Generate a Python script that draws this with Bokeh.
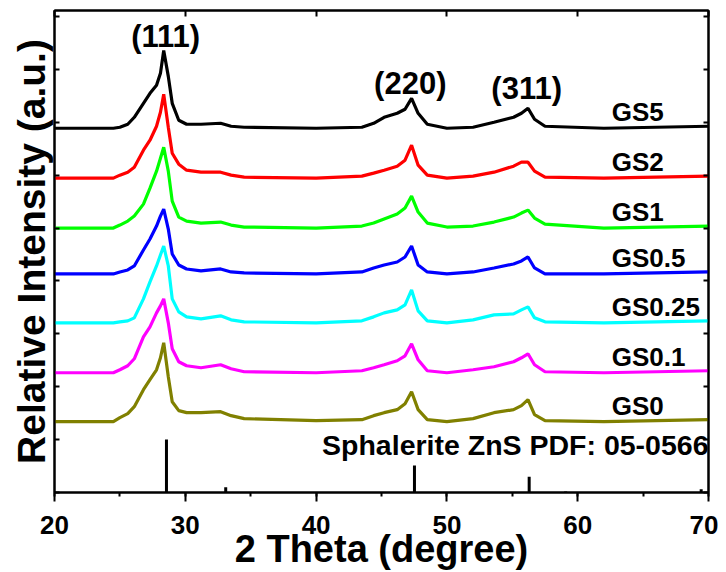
from bokeh.plotting import figure
from bokeh.models import Range1d, LinearAxis, SingleIntervalTicker, FixedTicker
from bokeh.core.properties import value
from bokeh.embed import file_html
from bokeh.resources import INLINE

# 2 Theta grid (degree)
two_theta = [20, 24.5, 25.0, 25.6, 26.1, 26.8, 27.3, 27.8, 28.1, 28.35, 28.7, 29.0, 29.5, 30.1,
             31.2, 32.7, 33.5, 34.5, 40, 43.5, 44.4, 45.2, 46.2, 46.8, 47.3, 47.8, 48.5, 50.0,
             52.0, 53.6, 55.1, 55.7, 56.2, 56.7, 57.5, 62, 70]

# intensities (a.u.) above each pattern's own baseline
gs5 = [0, 0, 1, 4, 11, 25, 35, 43, 55, 78, 52, 25, 8, 4, 4, 5, 2, 1, 0,
       1, 5, 11, 15, 19, 30, 15, 4, 0, 1, 6, 11, 15, 20, 9, 2, 0, 2]
gs2 = [0, 0, 3, 6, 11, 28, 38, 52, 66, 84, 51, 25, 14, 8, 6, 6, 3, 1, 0,
       2, 5, 8, 12, 18, 33, 13, 3, 0, 2, 6, 12, 16, 16, 7, 1, 0, 2]
gs1 = [0, 0, 3, 7, 12, 24, 40, 57, 70, 81, 57, 27, 11, 7, 5, 6, 3, 1, 0,
       2, 5, 9, 14, 20, 32, 16, 5, 1, 2, 6, 11, 15, 18, 10, 4, 0, 2]
gs05 = [0, 0, 2, 4, 8, 24, 35, 48, 58, 65, 45, 20, 9, 5, 3, 5, 2, 1, 0,
        2, 6, 9, 12, 17, 28, 9, 2, 0, 2, 6, 10, 13, 17, 6, 0, 0, 2]
gs025 = [0, 0, 1, 2, 5, 24, 41, 57, 68, 77, 57, 24, 11, 6, 4, 7, 3, 1, 0,
         2, 6, 10, 13, 18, 33, 12, 2, 0, 3, 8, 9, 13, 16, 5, 1, 0, 2]
gs01 = [0, 0, 3, 7, 14, 36, 46, 60, 67, 74, 50, 24, 11, 7, 5, 8, 4, 1, 0,
        2, 5, 8, 12, 17, 29, 13, 2, 0, 3, 6, 11, 15, 19, 8, 1, 0, 2]
gs0 = [0, 0, 4, 8, 15, 32, 42, 52, 64, 79, 45, 20, 11, 9, 9, 10, 6, 3, 1,
       2, 6, 9, 12, 18, 30, 12, 2, 0, 3, 9, 12, 16, 22, 7, 1, 0, 2]

sample_names = ["GS5", "GS2", "GS1", "GS0.5", "GS0.25", "GS0.1", "GS0"]
series = [gs5, gs2, gs1, gs05, gs025, gs01, gs0]
offsets = [365, 315, 265, 219, 170, 120, 71]
colors = ["#000000", "#ff0000", "#00ff00", "#0000ff", "#00ffff", "#ff00ff", "#808000"]

# Sphalerite ZnS PDF 05-0566 reference lines
pdf_pos = [28.56, 33.09, 47.52, 56.29, 59.08, 69.44]
pdf_int = [100, 10, 51, 30, 2, 6]
pdf_scale = 0.53

peak_labels = ["(111)", "(220)", "(311)"]
peak_x = [28.5, 47.2, 56.1]
peak_y = [457, 410, 405]

FONT = "Liberation Sans"

p = figure(width=718, height=572, x_range=Range1d(20, 70), y_range=Range1d(0, 483),
           output_backend="svg", toolbar_location=None,
           min_border_left=54, min_border_right=10, min_border_top=10, min_border_bottom=79)
p.xgrid.visible = False
p.ygrid.visible = False
p.outline_line_color = "black"
p.outline_line_width = 2

for ys, off, c in zip(series, offsets, colors):
    p.line(two_theta, [v + off for v in ys], line_color=c, line_width=3.2)

p.segment(x0=pdf_pos, y0=[0] * len(pdf_pos), x1=pdf_pos,
          y1=[v * pdf_scale for v in pdf_int], line_color="black", line_width=3)

p.text(x=[62.6] * len(sample_names), y=[o + 16 for o in offsets], text=sample_names,
       text_font=value(FONT), text_font_style="bold", text_font_size="26px",
       text_baseline="middle", text_align="left", text_color="black")
p.text(x=peak_x, y=peak_y, text=peak_labels,
       text_font=value(FONT), text_font_style="bold", text_font_size="31px",
       text_baseline="middle", text_align="center", text_color="black")
p.text(x=[70], y=[48], text=["Sphalerite ZnS PDF: 05-0566"],
       text_font=value(FONT), text_font_style="bold", text_font_size="28.5px",
       text_baseline="middle", text_align="right", text_color="black")

xa = p.xaxis[0]
xa.ticker = SingleIntervalTicker(interval=10, num_minor_ticks=2)
xa.axis_label = "2 Theta (degree)"
xa.axis_label_text_font = FONT
xa.axis_label_text_font_style = "bold"
xa.axis_label_text_font_size = "38px"
xa.axis_label_text_color = "black"
xa.axis_label_standoff = -9
xa.major_label_text_font = FONT
xa.major_label_text_font_style = "bold"
xa.major_label_text_font_size = "26px"
xa.major_label_text_color = "black"
xa.major_label_standoff = 14
xa.major_tick_in = 0
xa.major_tick_out = 9
xa.minor_tick_in = 0
xa.minor_tick_out = 4
xa.axis_line_width = 2
xa.major_tick_line_width = 2
xa.minor_tick_line_width = 2

y_tick_marks = list(range(0, 484, 53))

ya = p.yaxis[0]
ya.ticker = FixedTicker(ticks=[], minor_ticks=y_tick_marks)
ya.axis_label = "Relative Intensity (a.u.)"
ya.axis_label_text_font = FONT
ya.axis_label_text_font_style = "bold"
ya.axis_label_text_font_size = "39px"
ya.axis_label_text_color = "black"
ya.axis_label_standoff = 2
ya.minor_tick_in = 5
ya.minor_tick_out = 0
ya.axis_line_width = 2
ya.minor_tick_line_width = 2

top = LinearAxis(ticker=FixedTicker(ticks=[], minor_ticks=list(range(20, 71, 10))),
                 minor_tick_in=6, minor_tick_out=0,
                 axis_line_width=2, minor_tick_line_width=2)
p.add_layout(top, "above")
right = LinearAxis(ticker=FixedTicker(ticks=[], minor_ticks=y_tick_marks),
                   minor_tick_in=5, minor_tick_out=0,
                   axis_line_width=2, minor_tick_line_width=2)
p.add_layout(right, "right")

open("out.html", "w").write(file_html(p, INLINE))
